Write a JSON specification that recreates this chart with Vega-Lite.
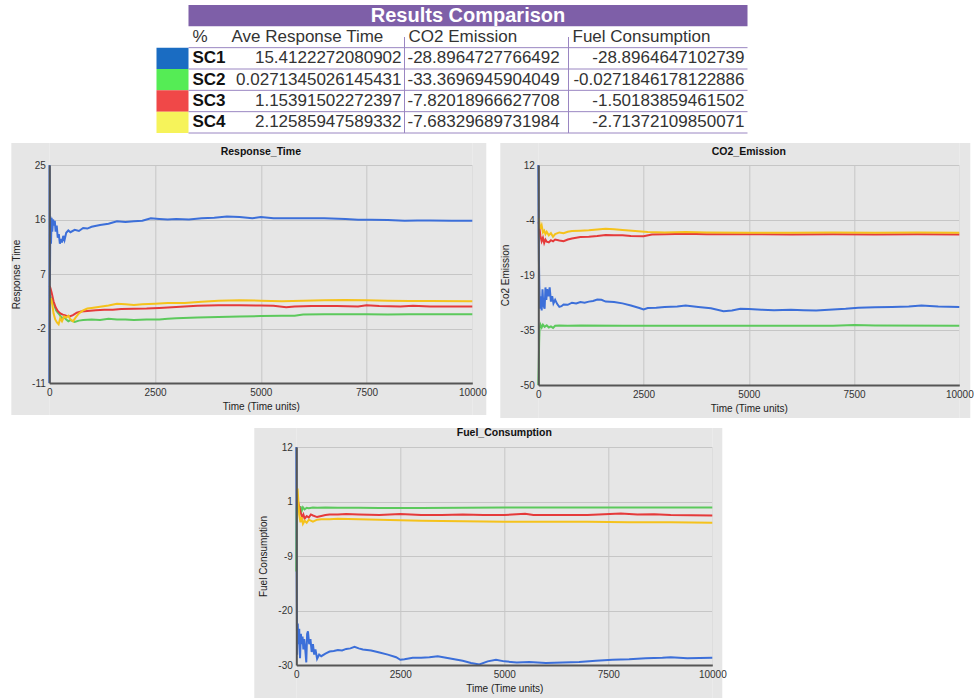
{
"$schema": "https://vega.github.io/schema/vega-lite/v6.json",
"background": "white",
"padding": {"left": 10, "top": 5, "right": 0, "bottom": 0},
"config": {"font": "Liberation Sans", "view": {"stroke": null}},
"datasets": {
"one": [{}],
"hdr": [{"c":0,"txt":"%"},{"c":1,"txt":"Ave Response Time"},{"c":2,"txt":"CO2 Emission"},{"c":3,"txt":"Fuel Consumption"}],
"lbl": [{"r":"SC1"},{"r":"SC2"},{"r":"SC3"},{"r":"SC4"}],
"sep": [{"r":"header"},{"r":"SC1"},{"r":"SC2"},{"r":"SC3"},{"r":"SC4"}],
"val": [
{"r":"SC1","c":1,"txt":"15.4122272080902"},{"r":"SC1","c":2,"txt":"-28.8964727766492"},{"r":"SC1","c":3,"txt":"-28.8964647102739"},
{"r":"SC2","c":1,"txt":"0.0271345026145431"},{"r":"SC2","c":2,"txt":"-33.3696945904049"},{"r":"SC2","c":3,"txt":"-0.0271846178122886"},
{"r":"SC3","c":1,"txt":"1.15391502272397"},{"r":"SC3","c":2,"txt":"-7.82018966627708"},{"r":"SC3","c":3,"txt":"-1.50183859461502"},
{"r":"SC4","c":1,"txt":"2.12585947589332"},{"r":"SC4","c":2,"txt":"-7.68329689731984"},{"r":"SC4","c":3,"txt":"-2.71372109850071"}],
"rt": [
{"t":0,"s":"SC1","v":-11},{"t":5,"s":"SC1","v":25},{"t":15,"s":"SC1","v":6},{"t":25,"s":"SC1","v":16.5},{"t":40,"s":"SC1","v":12},{"t":55,"s":"SC1","v":16.3},{"t":70,"s":"SC1","v":14},{"t":90,"s":"SC1","v":16},{"t":110,"s":"SC1","v":15},{"t":130,"s":"SC1","v":15.8},{"t":150,"s":"SC1","v":14},{"t":175,"s":"SC1","v":15},{"t":200,"s":"SC1","v":13},{"t":225,"s":"SC1","v":13.6},{"t":250,"s":"SC1","v":12},{"t":275,"s":"SC1","v":12.8},{"t":300,"s":"SC1","v":12.2},{"t":330,"s":"SC1","v":13.3},{"t":360,"s":"SC1","v":12.6},{"t":400,"s":"SC1","v":13.8},{"t":450,"s":"SC1","v":14.2},{"t":500,"s":"SC1","v":13.9},{"t":600,"s":"SC1","v":14.3},{"t":700,"s":"SC1","v":14.1},{"t":800,"s":"SC1","v":14.6},{"t":900,"s":"SC1","v":14.5},{"t":1000,"s":"SC1","v":14.8},{"t":1200,"s":"SC1","v":15.1},{"t":1400,"s":"SC1","v":15.3},{"t":1600,"s":"SC1","v":15.7},{"t":1800,"s":"SC1","v":15.6},{"t":2000,"s":"SC1","v":15.7},{"t":2200,"s":"SC1","v":15.8},{"t":2400,"s":"SC1","v":16.2},{"t":2600,"s":"SC1","v":16.1},{"t":2800,"s":"SC1","v":16.0},{"t":3000,"s":"SC1","v":16.1},{"t":3300,"s":"SC1","v":16.0},{"t":3600,"s":"SC1","v":16.2},{"t":3900,"s":"SC1","v":16.3},{"t":4200,"s":"SC1","v":16.5},{"t":4500,"s":"SC1","v":16.4},{"t":4800,"s":"SC1","v":16.2},{"t":5000,"s":"SC1","v":16.4},{"t":5300,"s":"SC1","v":16.2},{"t":5600,"s":"SC1","v":16.2},{"t":6000,"s":"SC1","v":16.2},{"t":6500,"s":"SC1","v":16.2},{"t":7000,"s":"SC1","v":16.1},{"t":7300,"s":"SC1","v":15.95},{"t":7600,"s":"SC1","v":15.95},{"t":8000,"s":"SC1","v":15.9},{"t":8400,"s":"SC1","v":15.8},{"t":8700,"s":"SC1","v":15.85},{"t":9000,"s":"SC1","v":15.85},{"t":9500,"s":"SC1","v":15.8},{"t":10000,"s":"SC1","v":15.8},
{"t":10,"s":"SC2","v":3.5},{"t":40,"s":"SC2","v":3.0},{"t":80,"s":"SC2","v":2.5},{"t":120,"s":"SC2","v":1.8},{"t":160,"s":"SC2","v":1.0},{"t":200,"s":"SC2","v":0.6},{"t":250,"s":"SC2","v":0.2},{"t":300,"s":"SC2","v":-0.3},{"t":350,"s":"SC2","v":-0.1},{"t":400,"s":"SC2","v":-0.5},{"t":450,"s":"SC2","v":-0.8},{"t":500,"s":"SC2","v":-0.6},{"t":600,"s":"SC2","v":-0.9},{"t":700,"s":"SC2","v":-0.7},{"t":800,"s":"SC2","v":-0.6},{"t":1000,"s":"SC2","v":-0.5},{"t":1200,"s":"SC2","v":-0.6},{"t":1400,"s":"SC2","v":-0.4},{"t":1600,"s":"SC2","v":-0.5},{"t":1800,"s":"SC2","v":-0.5},{"t":2000,"s":"SC2","v":-0.6},{"t":2300,"s":"SC2","v":-0.5},{"t":2600,"s":"SC2","v":-0.5},{"t":2800,"s":"SC2","v":-0.4},{"t":3000,"s":"SC2","v":-0.3},{"t":3500,"s":"SC2","v":-0.2},{"t":4000,"s":"SC2","v":-0.1},{"t":4500,"s":"SC2","v":0.0},{"t":5000,"s":"SC2","v":0.05},{"t":5500,"s":"SC2","v":0.1},{"t":5800,"s":"SC2","v":0.1},{"t":6000,"s":"SC2","v":0.3},{"t":6500,"s":"SC2","v":0.35},{"t":7000,"s":"SC2","v":0.35},{"t":7500,"s":"SC2","v":0.35},{"t":8000,"s":"SC2","v":0.3},{"t":8500,"s":"SC2","v":0.35},{"t":9000,"s":"SC2","v":0.35},{"t":10000,"s":"SC2","v":0.35},
{"t":10,"s":"SC3","v":5.0},{"t":30,"s":"SC3","v":4.6},{"t":60,"s":"SC3","v":3.8},{"t":100,"s":"SC3","v":2.5},{"t":150,"s":"SC3","v":1.5},{"t":200,"s":"SC3","v":0.9},{"t":260,"s":"SC3","v":0.5},{"t":320,"s":"SC3","v":0.3},{"t":400,"s":"SC3","v":0.1},{"t":480,"s":"SC3","v":0.0},{"t":560,"s":"SC3","v":0.2},{"t":650,"s":"SC3","v":0.6},{"t":750,"s":"SC3","v":0.8},{"t":900,"s":"SC3","v":0.9},{"t":1100,"s":"SC3","v":1.0},{"t":1300,"s":"SC3","v":1.1},{"t":1500,"s":"SC3","v":1.1},{"t":1700,"s":"SC3","v":1.2},{"t":2000,"s":"SC3","v":1.25},{"t":2300,"s":"SC3","v":1.3},{"t":2600,"s":"SC3","v":1.4},{"t":3000,"s":"SC3","v":1.55},{"t":3500,"s":"SC3","v":1.75},{"t":4000,"s":"SC3","v":1.85},{"t":4500,"s":"SC3","v":1.85},{"t":5000,"s":"SC3","v":1.8},{"t":5300,"s":"SC3","v":1.75},{"t":5600,"s":"SC3","v":1.5},{"t":5800,"s":"SC3","v":1.65},{"t":6200,"s":"SC3","v":1.7},{"t":6800,"s":"SC3","v":1.7},{"t":7300,"s":"SC3","v":1.65},{"t":7500,"s":"SC3","v":1.85},{"t":7800,"s":"SC3","v":1.7},{"t":8300,"s":"SC3","v":1.65},{"t":8600,"s":"SC3","v":1.75},{"t":9000,"s":"SC3","v":1.65},{"t":9500,"s":"SC3","v":1.65},{"t":10000,"s":"SC3","v":1.65},
{"t":10,"s":"SC4","v":2.0},{"t":40,"s":"SC4","v":3.0},{"t":70,"s":"SC4","v":2.0},{"t":100,"s":"SC4","v":0.5},{"t":140,"s":"SC4","v":-0.5},{"t":180,"s":"SC4","v":-1.0},{"t":220,"s":"SC4","v":-1.3},{"t":260,"s":"SC4","v":-0.3},{"t":300,"s":"SC4","v":-0.8},{"t":350,"s":"SC4","v":0.0},{"t":400,"s":"SC4","v":-0.2},{"t":450,"s":"SC4","v":0.1},{"t":500,"s":"SC4","v":-0.5},{"t":560,"s":"SC4","v":-0.8},{"t":620,"s":"SC4","v":-0.2},{"t":700,"s":"SC4","v":0.5},{"t":800,"s":"SC4","v":1.0},{"t":900,"s":"SC4","v":1.3},{"t":1000,"s":"SC4","v":1.4},{"t":1200,"s":"SC4","v":1.6},{"t":1400,"s":"SC4","v":1.8},{"t":1600,"s":"SC4","v":2.1},{"t":1800,"s":"SC4","v":2.0},{"t":2000,"s":"SC4","v":1.9},{"t":2200,"s":"SC4","v":2.0},{"t":2500,"s":"SC4","v":2.1},{"t":2800,"s":"SC4","v":2.2},{"t":3200,"s":"SC4","v":2.2},{"t":3600,"s":"SC4","v":2.4},{"t":4000,"s":"SC4","v":2.6},{"t":4500,"s":"SC4","v":2.65},{"t":5000,"s":"SC4","v":2.6},{"t":5500,"s":"SC4","v":2.5},{"t":6000,"s":"SC4","v":2.6},{"t":6500,"s":"SC4","v":2.65},{"t":7000,"s":"SC4","v":2.7},{"t":7500,"s":"SC4","v":2.65},{"t":8000,"s":"SC4","v":2.6},{"t":8500,"s":"SC4","v":2.55},{"t":9000,"s":"SC4","v":2.55},{"t":10000,"s":"SC4","v":2.5}],
"co2": [
{"t":0,"s":"SC1","v":12},{"t":8,"s":"SC1","v":-5},{"t":15,"s":"SC1","v":-15},{"t":25,"s":"SC1","v":-22},{"t":40,"s":"SC1","v":-28.5},{"t":60,"s":"SC1","v":-25},{"t":80,"s":"SC1","v":-29},{"t":100,"s":"SC1","v":-23},{"t":120,"s":"SC1","v":-27.5},{"t":150,"s":"SC1","v":-28.5},{"t":170,"s":"SC1","v":-22.5},{"t":190,"s":"SC1","v":-26},{"t":210,"s":"SC1","v":-23},{"t":240,"s":"SC1","v":-25},{"t":270,"s":"SC1","v":-22.5},{"t":300,"s":"SC1","v":-26.5},{"t":330,"s":"SC1","v":-25},{"t":360,"s":"SC1","v":-27},{"t":400,"s":"SC1","v":-26},{"t":450,"s":"SC1","v":-27.2},{"t":500,"s":"SC1","v":-28},{"t":550,"s":"SC1","v":-27.8},{"t":600,"s":"SC1","v":-27.3},{"t":700,"s":"SC1","v":-27.4},{"t":800,"s":"SC1","v":-26.8},{"t":900,"s":"SC1","v":-27},{"t":1000,"s":"SC1","v":-26.6},{"t":1100,"s":"SC1","v":-26.8},{"t":1200,"s":"SC1","v":-26.5},{"t":1300,"s":"SC1","v":-26.3},{"t":1400,"s":"SC1","v":-25.9},{"t":1500,"s":"SC1","v":-26.0},{"t":1600,"s":"SC1","v":-26.5},{"t":1800,"s":"SC1","v":-26.6},{"t":2000,"s":"SC1","v":-27.0},{"t":2200,"s":"SC1","v":-27.6},{"t":2400,"s":"SC1","v":-28.3},{"t":2500,"s":"SC1","v":-28.7},{"t":2600,"s":"SC1","v":-28.3},{"t":2800,"s":"SC1","v":-28.2},{"t":3000,"s":"SC1","v":-28.0},{"t":3300,"s":"SC1","v":-27.9},{"t":3500,"s":"SC1","v":-27.6},{"t":3800,"s":"SC1","v":-28.0},{"t":4100,"s":"SC1","v":-28.4},{"t":4400,"s":"SC1","v":-29.2},{"t":4600,"s":"SC1","v":-29.0},{"t":4800,"s":"SC1","v":-28.5},{"t":5000,"s":"SC1","v":-28.6},{"t":5300,"s":"SC1","v":-28.8},{"t":5600,"s":"SC1","v":-28.9},{"t":6000,"s":"SC1","v":-28.8},{"t":6300,"s":"SC1","v":-28.9},{"t":6600,"s":"SC1","v":-29.0},{"t":7000,"s":"SC1","v":-28.7},{"t":7300,"s":"SC1","v":-28.5},{"t":7600,"s":"SC1","v":-28.2},{"t":8000,"s":"SC1","v":-28.1},{"t":8400,"s":"SC1","v":-28.0},{"t":8800,"s":"SC1","v":-27.9},{"t":9100,"s":"SC1","v":-27.6},{"t":9500,"s":"SC1","v":-27.9},{"t":10000,"s":"SC1","v":-28.0},
{"t":0,"s":"SC2","v":-50},{"t":10,"s":"SC2","v":-45},{"t":20,"s":"SC2","v":-38},{"t":30,"s":"SC2","v":-34},{"t":50,"s":"SC2","v":-33},{"t":80,"s":"SC2","v":-33.8},{"t":110,"s":"SC2","v":-33},{"t":150,"s":"SC2","v":-33.6},{"t":200,"s":"SC2","v":-33.2},{"t":250,"s":"SC2","v":-33.8},{"t":300,"s":"SC2","v":-33.5},{"t":350,"s":"SC2","v":-33.9},{"t":400,"s":"SC2","v":-33.3},{"t":500,"s":"SC2","v":-33.2},{"t":700,"s":"SC2","v":-33.3},{"t":1000,"s":"SC2","v":-33.2},{"t":2000,"s":"SC2","v":-33.3},{"t":3000,"s":"SC2","v":-33.3},{"t":5000,"s":"SC2","v":-33.3},{"t":7000,"s":"SC2","v":-33.3},{"t":7500,"s":"SC2","v":-33.1},{"t":8000,"s":"SC2","v":-33.2},{"t":10000,"s":"SC2","v":-33.3},
{"t":10,"s":"SC3","v":-4},{"t":30,"s":"SC3","v":-6},{"t":50,"s":"SC3","v":-8},{"t":80,"s":"SC3","v":-9.5},{"t":110,"s":"SC3","v":-8.5},{"t":140,"s":"SC3","v":-10},{"t":170,"s":"SC3","v":-9},{"t":200,"s":"SC3","v":-9.6},{"t":250,"s":"SC3","v":-9.8},{"t":300,"s":"SC3","v":-9.2},{"t":350,"s":"SC3","v":-9.5},{"t":400,"s":"SC3","v":-9.0},{"t":500,"s":"SC3","v":-9.3},{"t":600,"s":"SC3","v":-9.5},{"t":700,"s":"SC3","v":-9.0},{"t":800,"s":"SC3","v":-8.7},{"t":900,"s":"SC3","v":-8.5},{"t":1000,"s":"SC3","v":-8.3},{"t":1200,"s":"SC3","v":-8.2},{"t":1400,"s":"SC3","v":-8.0},{"t":1600,"s":"SC3","v":-7.7},{"t":1800,"s":"SC3","v":-7.8},{"t":2000,"s":"SC3","v":-7.8},{"t":2200,"s":"SC3","v":-8.0},{"t":2500,"s":"SC3","v":-8.1},{"t":2700,"s":"SC3","v":-7.6},{"t":3000,"s":"SC3","v":-7.5},{"t":3500,"s":"SC3","v":-7.4},{"t":4000,"s":"SC3","v":-7.5},{"t":5000,"s":"SC3","v":-7.5},{"t":6000,"s":"SC3","v":-7.6},{"t":7000,"s":"SC3","v":-7.5},{"t":8000,"s":"SC3","v":-7.6},{"t":9000,"s":"SC3","v":-7.5},{"t":10000,"s":"SC3","v":-7.6},
{"t":10,"s":"SC4","v":-3},{"t":30,"s":"SC4","v":-4.5},{"t":50,"s":"SC4","v":-6},{"t":80,"s":"SC4","v":-5},{"t":110,"s":"SC4","v":-7},{"t":140,"s":"SC4","v":-6.5},{"t":170,"s":"SC4","v":-7.5},{"t":200,"s":"SC4","v":-6.8},{"t":250,"s":"SC4","v":-7.8},{"t":300,"s":"SC4","v":-7.2},{"t":350,"s":"SC4","v":-8.2},{"t":400,"s":"SC4","v":-7.5},{"t":500,"s":"SC4","v":-7.0},{"t":600,"s":"SC4","v":-7.2},{"t":700,"s":"SC4","v":-6.8},{"t":800,"s":"SC4","v":-6.6},{"t":1000,"s":"SC4","v":-6.5},{"t":1200,"s":"SC4","v":-6.4},{"t":1400,"s":"SC4","v":-6.2},{"t":1600,"s":"SC4","v":-6.0},{"t":1800,"s":"SC4","v":-6.1},{"t":2000,"s":"SC4","v":-6.3},{"t":2300,"s":"SC4","v":-6.6},{"t":2600,"s":"SC4","v":-6.9},{"t":3000,"s":"SC4","v":-7.0},{"t":3500,"s":"SC4","v":-6.9},{"t":4000,"s":"SC4","v":-7.0},{"t":5000,"s":"SC4","v":-7.1},{"t":6000,"s":"SC4","v":-7.1},{"t":7000,"s":"SC4","v":-7.0},{"t":8000,"s":"SC4","v":-7.1},{"t":9000,"s":"SC4","v":-7.0},{"t":10000,"s":"SC4","v":-7.1}],
"fuel": [
{"t":0,"s":"SC1","v":12},{"t":5,"s":"SC1","v":-5},{"t":12,"s":"SC1","v":-18},{"t":20,"s":"SC1","v":-28},{"t":35,"s":"SC1","v":-22},{"t":50,"s":"SC1","v":-26},{"t":70,"s":"SC1","v":-23},{"t":90,"s":"SC1","v":-28.7},{"t":110,"s":"SC1","v":-24},{"t":130,"s":"SC1","v":-26},{"t":150,"s":"SC1","v":-24.5},{"t":170,"s":"SC1","v":-27},{"t":190,"s":"SC1","v":-25},{"t":210,"s":"SC1","v":-26.5},{"t":240,"s":"SC1","v":-29.5},{"t":260,"s":"SC1","v":-24},{"t":280,"s":"SC1","v":-23.5},{"t":310,"s":"SC1","v":-26},{"t":340,"s":"SC1","v":-25},{"t":370,"s":"SC1","v":-27.5},{"t":400,"s":"SC1","v":-26},{"t":430,"s":"SC1","v":-28},{"t":460,"s":"SC1","v":-27},{"t":500,"s":"SC1","v":-28.8},{"t":550,"s":"SC1","v":-28},{"t":600,"s":"SC1","v":-28.3},{"t":700,"s":"SC1","v":-27.8},{"t":800,"s":"SC1","v":-27.4},{"t":900,"s":"SC1","v":-27.3},{"t":1000,"s":"SC1","v":-27.1},{"t":1100,"s":"SC1","v":-27.2},{"t":1200,"s":"SC1","v":-26.9},{"t":1300,"s":"SC1","v":-26.8},{"t":1400,"s":"SC1","v":-26.5},{"t":1500,"s":"SC1","v":-26.8},{"t":1600,"s":"SC1","v":-27.0},{"t":1800,"s":"SC1","v":-27.2},{"t":2000,"s":"SC1","v":-27.6},{"t":2200,"s":"SC1","v":-28.0},{"t":2400,"s":"SC1","v":-28.5},{"t":2500,"s":"SC1","v":-29.0},{"t":2600,"s":"SC1","v":-28.9},{"t":2800,"s":"SC1","v":-28.6},{"t":3000,"s":"SC1","v":-28.6},{"t":3200,"s":"SC1","v":-28.5},{"t":3400,"s":"SC1","v":-28.3},{"t":3600,"s":"SC1","v":-28.6},{"t":3800,"s":"SC1","v":-28.9},{"t":4000,"s":"SC1","v":-29.2},{"t":4200,"s":"SC1","v":-29.6},{"t":4400,"s":"SC1","v":-29.9},{"t":4600,"s":"SC1","v":-29.3},{"t":4800,"s":"SC1","v":-29.0},{"t":5000,"s":"SC1","v":-29.3},{"t":5300,"s":"SC1","v":-29.5},{"t":5600,"s":"SC1","v":-29.4},{"t":6000,"s":"SC1","v":-29.6},{"t":6400,"s":"SC1","v":-29.5},{"t":6800,"s":"SC1","v":-29.4},{"t":7200,"s":"SC1","v":-29.2},{"t":7600,"s":"SC1","v":-29.0},{"t":8000,"s":"SC1","v":-28.9},{"t":8400,"s":"SC1","v":-28.7},{"t":8800,"s":"SC1","v":-28.6},{"t":9000,"s":"SC1","v":-28.5},{"t":9400,"s":"SC1","v":-28.7},{"t":10000,"s":"SC1","v":-28.6},
{"t":0,"s":"SC2","v":-12},{"t":5,"s":"SC2","v":-5},{"t":10,"s":"SC2","v":0},{"t":20,"s":"SC2","v":1.2},{"t":40,"s":"SC2","v":0.0},{"t":60,"s":"SC2","v":0.8},{"t":80,"s":"SC2","v":-0.2},{"t":100,"s":"SC2","v":0.6},{"t":130,"s":"SC2","v":-0.3},{"t":160,"s":"SC2","v":0.4},{"t":200,"s":"SC2","v":0.0},{"t":250,"s":"SC2","v":0.3},{"t":300,"s":"SC2","v":0.2},{"t":400,"s":"SC2","v":0.35},{"t":500,"s":"SC2","v":0.3},{"t":700,"s":"SC2","v":0.35},{"t":1000,"s":"SC2","v":0.3},{"t":1500,"s":"SC2","v":0.3},{"t":2000,"s":"SC2","v":0.25},{"t":3000,"s":"SC2","v":0.25},{"t":4000,"s":"SC2","v":0.3},{"t":5000,"s":"SC2","v":0.35},{"t":6000,"s":"SC2","v":0.35},{"t":7000,"s":"SC2","v":0.35},{"t":8000,"s":"SC2","v":0.35},{"t":9000,"s":"SC2","v":0.35},{"t":10000,"s":"SC2","v":0.35},
{"t":10,"s":"SC3","v":1.5},{"t":30,"s":"SC3","v":2.0},{"t":50,"s":"SC3","v":1.2},{"t":80,"s":"SC3","v":0.2},{"t":110,"s":"SC3","v":-0.8},{"t":140,"s":"SC3","v":-1.5},{"t":170,"s":"SC3","v":-1.0},{"t":200,"s":"SC3","v":-1.8},{"t":250,"s":"SC3","v":-1.3},{"t":300,"s":"SC3","v":-1.6},{"t":350,"s":"SC3","v":-1.0},{"t":400,"s":"SC3","v":-1.2},{"t":500,"s":"SC3","v":-1.5},{"t":600,"s":"SC3","v":-1.3},{"t":700,"s":"SC3","v":-1.1},{"t":800,"s":"SC3","v":-1.0},{"t":1000,"s":"SC3","v":-1.0},{"t":1200,"s":"SC3","v":-0.9},{"t":1500,"s":"SC3","v":-1.0},{"t":2000,"s":"SC3","v":-1.1},{"t":2500,"s":"SC3","v":-0.9},{"t":3000,"s":"SC3","v":-1.1},{"t":3500,"s":"SC3","v":-1.1},{"t":4000,"s":"SC3","v":-1.0},{"t":4500,"s":"SC3","v":-1.1},{"t":5000,"s":"SC3","v":-1.1},{"t":5500,"s":"SC3","v":-0.85},{"t":5700,"s":"SC3","v":-1.1},{"t":6000,"s":"SC3","v":-1.1},{"t":7000,"s":"SC3","v":-1.1},{"t":7800,"s":"SC3","v":-0.8},{"t":8200,"s":"SC3","v":-1.0},{"t":8600,"s":"SC3","v":-0.95},{"t":9000,"s":"SC3","v":-1.1},{"t":10000,"s":"SC3","v":-1.2},
{"t":10,"s":"SC4","v":3.5},{"t":30,"s":"SC4","v":4.0},{"t":50,"s":"SC4","v":1.5},{"t":70,"s":"SC4","v":-1.0},{"t":100,"s":"SC4","v":-2.5},{"t":130,"s":"SC4","v":-1.5},{"t":160,"s":"SC4","v":-2.8},{"t":200,"s":"SC4","v":-2.2},{"t":250,"s":"SC4","v":-2.6},{"t":300,"s":"SC4","v":-2.0},{"t":400,"s":"SC4","v":-2.4},{"t":500,"s":"SC4","v":-2.0},{"t":600,"s":"SC4","v":-1.9},{"t":800,"s":"SC4","v":-1.9},{"t":1000,"s":"SC4","v":-1.8},{"t":1500,"s":"SC4","v":-1.9},{"t":2000,"s":"SC4","v":-2.0},{"t":2500,"s":"SC4","v":-2.1},{"t":3000,"s":"SC4","v":-2.2},{"t":4000,"s":"SC4","v":-2.3},{"t":5000,"s":"SC4","v":-2.4},{"t":6000,"s":"SC4","v":-2.4},{"t":7000,"s":"SC4","v":-2.4},{"t":8000,"s":"SC4","v":-2.5},{"t":9000,"s":"SC4","v":-2.5},{"t":10000,"s":"SC4","v":-2.6}]
},
"vconcat": [
{
"width": 710, "height": 128,
"view": {"stroke": null, "fill": null},
"layer": [
{"data": {"name": "one"}, "mark": {"type": "rect", "color": "#7e5fa8"},
 "encoding": {
  "x": {"datum": 0, "type": "quantitative", "scale": {"domain": [-1,0,1,2,2.5,3,4,5], "range": [0,32,71,248,311.5,412,591,666], "nice": false, "zero": false}, "axis": null},
  "x2": {"datum": 4},
  "y": {"datum": "title", "type": "nominal", "scale": {"type": "band", "domain": ["title","header","SC1","SC2","SC3","SC4"], "paddingInner": 0, "paddingOuter": 0}, "axis": null}}},
{"data": {"name": "lbl"}, "mark": {"type": "rect"},
 "encoding": {
  "x": {"datum": -1, "type": "quantitative", "axis": null},
  "x2": {"datum": 0},
  "y": {"field": "r", "type": "nominal", "axis": null},
  "fill": {"field": "r", "type": "nominal", "scale": {"domain": ["SC1","SC2","SC3","SC4"], "range": ["#1a6cc2","#55ec55","#f04848","#f6f35a"]}, "legend": null}}},
{"data": {"name": "sep"}, "mark": {"type": "rule", "color": "#9a86c2", "strokeWidth": 1},
 "encoding": {
  "x": {"datum": 0, "type": "quantitative", "axis": null},
  "x2": {"datum": 4},
  "y": {"field": "r", "type": "nominal", "bandPosition": 1, "axis": null}}},
{"data": {"name": "one"}, "mark": {"type": "rule", "color": "#9a86c2", "strokeWidth": 1},
 "encoding": {
  "x": {"datum": 2, "type": "quantitative", "axis": null},
  "y": {"datum": "header", "type": "nominal", "axis": null},
  "y2": {"datum": "SC4", "bandPosition": 1}}},
{"data": {"name": "one"}, "mark": {"type": "rule", "color": "#9a86c2", "strokeWidth": 1},
 "encoding": {
  "x": {"datum": 3, "type": "quantitative", "axis": null},
  "y": {"datum": "header", "type": "nominal", "axis": null},
  "y2": {"datum": "SC4", "bandPosition": 1}}},
{"data": {"name": "one"}, "mark": {"type": "text", "color": "white", "fontSize": 20, "fontWeight": "bold", "align": "center", "baseline": "middle"},
 "encoding": {
  "x": {"datum": 2.5, "type": "quantitative", "axis": null},
  "y": {"datum": "title", "type": "nominal", "bandPosition": 0.5, "axis": null},
  "text": {"value": "Results Comparison"}}},
{"data": {"name": "hdr"}, "mark": {"type": "text", "color": "#333333", "fontSize": 17, "align": "left", "baseline": "middle", "dx": 4},
 "encoding": {
  "x": {"field": "c", "type": "quantitative", "axis": null},
  "y": {"datum": "header", "type": "nominal", "bandPosition": 0.5, "axis": null},
  "text": {"field": "txt"}}},
{"data": {"name": "lbl"}, "mark": {"type": "text", "color": "#111111", "fontSize": 17, "fontWeight": "bold", "align": "left", "baseline": "middle", "dx": 4},
 "encoding": {
  "x": {"datum": 0, "type": "quantitative", "axis": null},
  "y": {"field": "r", "type": "nominal", "bandPosition": 0.5, "axis": null},
  "text": {"field": "r"}}},
{"data": {"name": "val"}, "transform": [{"filter": "datum.c == 2"}],
 "mark": {"type": "text", "color": "#333333", "fontSize": 17, "align": "left", "baseline": "middle", "dx": 3},
 "encoding": {
  "x": {"field": "c", "type": "quantitative", "axis": null},
  "y": {"field": "r", "type": "nominal", "bandPosition": 0.5, "axis": null},
  "text": {"field": "txt"}}},
{"data": {"name": "val"}, "transform": [{"filter": "datum.c != 2"}, {"calculate": "datum.c + 1", "as": "ce"}],
 "mark": {"type": "text", "color": "#333333", "fontSize": 17, "align": "right", "baseline": "middle", "dx": -3},
 "encoding": {
  "x": {"field": "ce", "type": "quantitative", "axis": null},
  "y": {"field": "r", "type": "nominal", "bandPosition": 0.5, "axis": null},
  "text": {"field": "txt"}}}
]
},
{
"hconcat": [
{
"width": 423, "height": 218,
"view": {"fill": "#e6e6e6", "stroke": "#c4c4c4"},
"title": {"text": "Response_Time", "fontSize": 10.5, "fontWeight": "bold", "color": "#111111", "frame": "group", "anchor": "middle", "offset": -14, "zindex": 1},
"layer": [
{"data": {"name": "one"}, "mark": {"type": "rect", "color": "#e6e6e6"},
 "encoding": {
  "x": {"datum": -898, "type": "quantitative", "scale": {"domain": [0,10000], "nice": false, "zero": false},
        "axis": {"orient": "top", "values": [0,2500,5000,7500,10000], "grid": true, "gridColor": "#c6c6c6", "labels": false, "ticks": false, "domain": false, "title": null, "zindex": 0, "minExtent": 0, "maxExtent": 0}},
  "x2": {"datum": 0},
  "y": {"datum": -16.28, "type": "quantitative", "scale": {"domain": [-11,25], "nice": false, "zero": false},
        "axis": {"orient": "right", "values": [-11,-2,7,16,25], "grid": true, "gridColor": "#c6c6c6", "labels": false, "ticks": false, "domain": false, "title": null, "zindex": 0, "minExtent": 0, "maxExtent": 0}},
  "y2": {"datum": 28.63}}},
{"data": {"name": "one"}, "mark": {"type": "rect", "color": "#e6e6e6"},
 "encoding": {"x": {"datum": 10000, "type": "quantitative", "axis": null}, "x2": {"datum": 10331}, "y": {"datum": -16.28, "type": "quantitative", "axis": null}, "y2": {"datum": 28.63}}},
{"data": {"name": "one"}, "mark": {"type": "rect", "color": "#e6e6e6"},
 "encoding": {"x": {"datum": 0, "type": "quantitative", "axis": null}, "x2": {"datum": 10000}, "y": {"datum": 25, "type": "quantitative", "axis": null}, "y2": {"datum": 28.63}}},
{"data": {"name": "one"}, "mark": {"type": "rect", "color": "#e6e6e6"},
 "encoding": {"x": {"datum": 0, "type": "quantitative", "axis": null}, "x2": {"datum": 10000}, "y": {"datum": -16.28, "type": "quantitative", "axis": null}, "y2": {"datum": -11}}},
{"data": {"name": "rt"}, "mark": {"type": "line", "strokeWidth": 2},
 "encoding": {
  "x": {"field": "t", "type": "quantitative", "scale": {"domain": [0,10000], "nice": false, "zero": false},
        "axis": {"orient": "bottom", "values": [0,2500,5000,7500,10000], "labelExpr": "'' + datum.value", "grid": false, "ticks": false, "domainColor": "#555555", "domainWidth": 2, "labelFontSize": 10, "labelColor": "#333333", "labelPadding": 4, "labelFlush": false, "labelOverlap": false, "title": "Time (Time units)", "titleFontSize": 10, "titleFontWeight": "normal", "titleColor": "#222222", "titlePadding": 4, "zindex": 1}},
  "y": {"field": "v", "type": "quantitative", "scale": {"domain": [-11,25], "nice": false, "zero": false},
        "axis": {"orient": "left", "values": [-11,-2,7,16,25], "labelExpr": "'' + datum.value", "grid": false, "ticks": false, "domainColor": "#555555", "domainWidth": 2, "labelFontSize": 10, "labelColor": "#333333", "labelPadding": 4, "labelFlush": false, "labelOverlap": false, "title": "Response Time", "titleFontSize": 10, "titleFontWeight": "normal", "titleColor": "#222222", "titlePadding": 10, "zindex": 1}},
  "stroke": {"field": "s", "type": "nominal", "scale": {"domain": ["SC1","SC2","SC3","SC4"], "range": ["#3c6fd9","#5cc95c","#e53a3a","#f5c21b"]}, "legend": null}}}
],
"resolve": {"axis": {"x": "independent", "y": "independent"}}
},
{
"width": 421, "height": 220,
"view": {"fill": "#e6e6e6", "stroke": "#c4c4c4"},
"title": {"text": "CO2_Emission", "fontSize": 10.5, "fontWeight": "bold", "color": "#111111", "frame": "group", "anchor": "middle", "offset": -14, "zindex": 1},
"layer": [
{"data": {"name": "one"}, "mark": {"type": "rect", "color": "#e6e6e6"},
 "encoding": {
  "x": {"datum": -903, "type": "quantitative", "scale": {"domain": [0,10000], "nice": false, "zero": false},
        "axis": {"orient": "top", "values": [0,2500,5000,7500,10000], "grid": true, "gridColor": "#c6c6c6", "labels": false, "ticks": false, "domain": false, "title": null, "zindex": 0, "minExtent": 0, "maxExtent": 0}},
  "x2": {"datum": 0},
  "y": {"datum": -59.3, "type": "quantitative", "scale": {"domain": [-50,12], "nice": false, "zero": false},
        "axis": {"orient": "right", "values": [-50,-34.5,-19,-3.5,12], "grid": true, "gridColor": "#c6c6c6", "labels": false, "ticks": false, "domain": false, "title": null, "zindex": 0, "minExtent": 0, "maxExtent": 0}},
  "y2": {"datum": 18.2}}},
{"data": {"name": "one"}, "mark": {"type": "rect", "color": "#e6e6e6"},
 "encoding": {"x": {"datum": 10000, "type": "quantitative", "axis": null}, "x2": {"datum": 10261}, "y": {"datum": -59.3, "type": "quantitative", "axis": null}, "y2": {"datum": 18.2}}},
{"data": {"name": "one"}, "mark": {"type": "rect", "color": "#e6e6e6"},
 "encoding": {"x": {"datum": 0, "type": "quantitative", "axis": null}, "x2": {"datum": 10000}, "y": {"datum": 12, "type": "quantitative", "axis": null}, "y2": {"datum": 18.2}}},
{"data": {"name": "one"}, "mark": {"type": "rect", "color": "#e6e6e6"},
 "encoding": {"x": {"datum": 0, "type": "quantitative", "axis": null}, "x2": {"datum": 10000}, "y": {"datum": -59.3, "type": "quantitative", "axis": null}, "y2": {"datum": -50}}},
{"data": {"name": "co2"}, "mark": {"type": "line", "strokeWidth": 2},
 "encoding": {
  "x": {"field": "t", "type": "quantitative", "scale": {"domain": [0,10000], "nice": false, "zero": false},
        "axis": {"orient": "bottom", "values": [0,2500,5000,7500,10000], "labelExpr": "'' + datum.value", "grid": false, "ticks": false, "domainColor": "#555555", "domainWidth": 2, "labelFontSize": 10, "labelColor": "#333333", "labelPadding": 4, "labelFlush": false, "labelOverlap": false, "title": "Time (Time units)", "titleFontSize": 10, "titleFontWeight": "normal", "titleColor": "#222222", "titlePadding": 4, "zindex": 1}},
  "y": {"field": "v", "type": "quantitative", "scale": {"domain": [-50,12], "nice": false, "zero": false},
        "axis": {"orient": "left", "values": [-50,-34.5,-19,-3.5,12], "labelExpr": "'' + floor(datum.value)", "grid": false, "ticks": false, "domainColor": "#555555", "domainWidth": 2, "labelFontSize": 10, "labelColor": "#333333", "labelPadding": 4, "labelFlush": false, "labelOverlap": false, "title": "Co2 Emission", "titleFontSize": 10, "titleFontWeight": "normal", "titleColor": "#222222", "titlePadding": 9, "zindex": 1}},
  "stroke": {"field": "s", "type": "nominal", "scale": {"domain": ["SC1","SC2","SC3","SC4"], "range": ["#3c6fd9","#5cc95c","#e53a3a","#f5c21b"]}, "legend": null}}}
],
"resolve": {"axis": {"x": "independent", "y": "independent"}}
}
],
"spacing": 12
},
{
"width": 416, "height": 218,
"view": {"fill": "#e6e6e6", "stroke": "#c4c4c4"},
"title": {"text": "Fuel_Consumption", "fontSize": 10.5, "fontWeight": "bold", "color": "#111111", "frame": "group", "anchor": "middle", "offset": -10, "zindex": 1},
"layer": [
{"data": {"name": "one"}, "mark": {"type": "rect", "color": "#e6e6e6"},
 "encoding": {
  "x": {"datum": -1010, "type": "quantitative", "scale": {"domain": [0,10000], "nice": false, "zero": false},
        "axis": {"orient": "top", "values": [0,2500,5000,7500,10000], "grid": true, "gridColor": "#c6c6c6", "labels": false, "ticks": false, "domain": false, "title": null, "zindex": 0, "minExtent": 0, "maxExtent": 0}},
  "x2": {"datum": 0},
  "y": {"datum": -36.74, "type": "quantitative", "scale": {"domain": [-30,12], "nice": false, "zero": false},
        "axis": {"orient": "right", "values": [-30,-19.5,-9,1.5,12], "grid": true, "gridColor": "#c6c6c6", "labels": false, "ticks": false, "domain": false, "title": null, "zindex": 0, "minExtent": 0, "maxExtent": 0}},
  "y2": {"datum": 15.66}}},
{"data": {"name": "one"}, "mark": {"type": "rect", "color": "#e6e6e6"},
 "encoding": {"x": {"datum": 10000, "type": "quantitative", "axis": null}, "x2": {"datum": 10240}, "y": {"datum": -36.74, "type": "quantitative", "axis": null}, "y2": {"datum": 15.66}}},
{"data": {"name": "one"}, "mark": {"type": "rect", "color": "#e6e6e6"},
 "encoding": {"x": {"datum": 0, "type": "quantitative", "axis": null}, "x2": {"datum": 10000}, "y": {"datum": 12, "type": "quantitative", "axis": null}, "y2": {"datum": 15.66}}},
{"data": {"name": "one"}, "mark": {"type": "rect", "color": "#e6e6e6"},
 "encoding": {"x": {"datum": 0, "type": "quantitative", "axis": null}, "x2": {"datum": 10000}, "y": {"datum": -36.74, "type": "quantitative", "axis": null}, "y2": {"datum": -30}}},
{"data": {"name": "fuel"}, "mark": {"type": "line", "strokeWidth": 2},
 "encoding": {
  "x": {"field": "t", "type": "quantitative", "scale": {"domain": [0,10000], "nice": false, "zero": false},
        "axis": {"orient": "bottom", "values": [0,2500,5000,7500,10000], "labelExpr": "'' + datum.value", "grid": false, "ticks": false, "domainColor": "#555555", "domainWidth": 2, "labelFontSize": 10, "labelColor": "#333333", "labelPadding": 4, "labelFlush": false, "labelOverlap": false, "title": "Time (Time units)", "titleFontSize": 10, "titleFontWeight": "normal", "titleColor": "#222222", "titlePadding": 4, "zindex": 1}},
  "y": {"field": "v", "type": "quantitative", "scale": {"domain": [-30,12], "nice": false, "zero": false},
        "axis": {"orient": "left", "values": [-30,-19.5,-9,1.5,12], "labelExpr": "'' + floor(datum.value)", "grid": false, "ticks": false, "domainColor": "#555555", "domainWidth": 2, "labelFontSize": 10, "labelColor": "#333333", "labelPadding": 4, "labelFlush": false, "labelOverlap": false, "title": "Fuel Consumption", "titleFontSize": 10, "titleFontWeight": "normal", "titleColor": "#222222", "titlePadding": 9, "zindex": 1}},
  "stroke": {"field": "s", "type": "nominal", "scale": {"domain": ["SC1","SC2","SC3","SC4"], "range": ["#3c6fd9","#5cc95c","#e53a3a","#f5c21b"]}, "legend": null}}}
],
"resolve": {"axis": {"x": "independent", "y": "independent"}}
}
],
"spacing": 8,
"center": true
}
